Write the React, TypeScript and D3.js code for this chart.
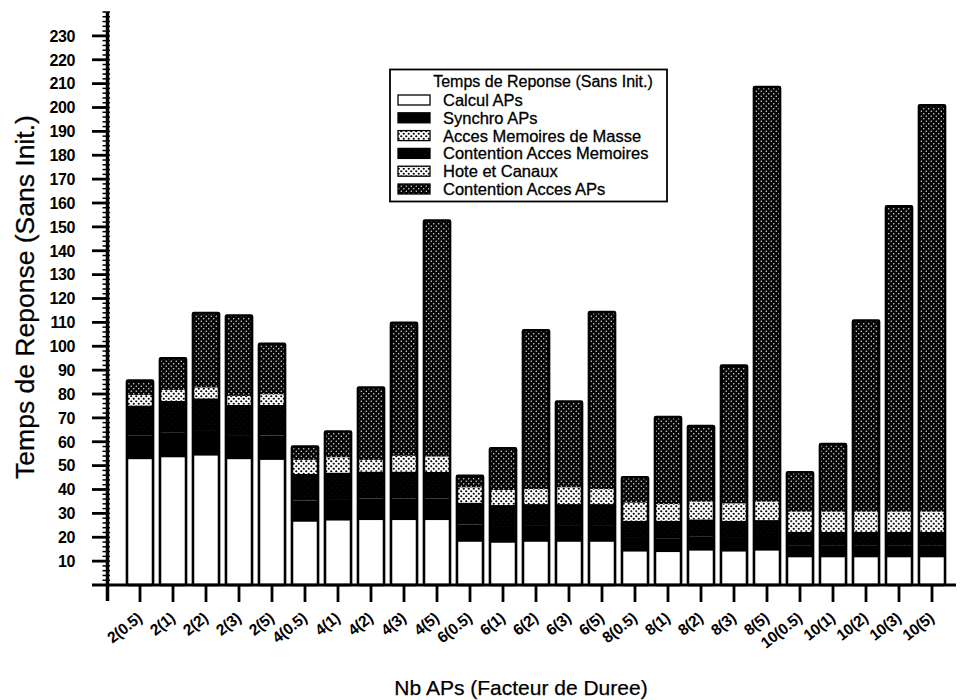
import React from "react";
import * as d3 from "d3";

const categories = ["2(0.5)","2(1)","2(2)","2(3)","2(5)","4(0.5)","4(1)","4(2)","4(3)","4(5)","6(0.5)","6(1)","6(2)","6(3)","6(5)","8(0.5)","8(1)","8(2)","8(3)","8(5)","10(0.5)","10(1)","10(2)","10(3)","10(5)"];

const calculAPs = [52.7,53.5,54.2,52.7,52.4,26.5,27.0,27.2,27.2,27.2,18.1,17.7,18.1,18.1,18.1,14.0,13.8,14.4,14.0,14.4,11.6,11.6,11.6,11.6,11.6];
const synchroAPs = [10.0,10.5,10.7,10.1,10.2,8.9,9.0,9.0,9.0,9.0,7.3,7.0,7.0,7.0,7.0,5.7,5.8,5.8,5.7,5.7,4.8,4.8,4.8,4.8,4.8];
const accesMemoiresMasse = [2.2,2.3,2.2,1.9,2.2,3.0,3.2,2.4,3.3,3.2,3.2,3.1,3.1,3.5,3.1,3.8,3.5,3.7,3.6,3.8,4.2,4.2,4.2,4.2,4.2];
const contentionAccesMemoires = [12.5,13.1,13.3,12.6,12.8,11.1,11.1,11.3,11.3,11.2,9.1,8.8,8.8,8.8,8.8,7.2,7.3,7.3,7.2,7.1,5.9,5.9,5.9,5.9,5.9];
const hoteEtCanaux = [2.2,2.3,2.3,1.9,2.3,2.9,3.2,2.5,3.3,3.2,3.2,3.2,3.2,3.5,3.2,3.8,3.5,3.7,3.7,3.9,4.2,4.2,4.2,4.2,4.2];
const contentionAccesAPs = [6.0,13.3,31.2,33.7,21.1,5.6,10.8,30.3,55.7,98.9,4.8,17.5,66.5,35.9,74.1,10.6,36.4,31.7,57.7,173.7,16.5,28.3,80.1,127.9,170.2];

const yTicks = [10,20,30,40,50,60,70,80,90,100,110,120,130,140,150,160,170,180,190,200,210,220,230];

const seriesNames = ["Calcul APs","Synchro APs","Acces Memoires de Masse","Contention Acces Memoires","Hote et Canaux","Contention Acces APs"];
const seriesKeys = ["calcul","synchro","acces","contMem","hote","contAP"];
const stackOrder = ["calcul","synchro","contMem","acces","hote","contAP"];
const fills: Record<string,string> = {
  calcul: "#ffffff",
  synchro: "#000000",
  acces: "url(#checker)",
  contMem: "url(#dense)",
  hote: "url(#checker)",
  contAP: "url(#stipple)",
};

const legendTitle = "Temps de Reponse (Sans Init.)";
const yTitle = "Temps de Reponse (Sans Init.)";
const xTitle = "Nb APs (Facteur de Duree)";

export default function App() {
  const W = 961, H = 700;
  const y0 = 585;
  const y = d3.scaleLinear().domain([0, 240]).range([y0, 12]);
  const x = d3.scaleBand<string>().domain(categories).range([123.5, 948.5]).paddingInner(0.21).paddingOuter(0.105);

  const table = categories.map((c, i) => ({
    cat: c,
    calcul: calculAPs[i],
    synchro: synchroAPs[i],
    acces: accesMemoiresMasse[i],
    contMem: contentionAccesMemoires[i],
    hote: hoteEtCanaux[i],
    contAP: contentionAccesAPs[i],
  }));
  const stacked = d3.stack<any>().keys(stackOrder)(table);

  const minor = d3.range(0, 241, 2);
  const font = "'Liberation Sans', Arial, Helvetica, sans-serif";
  const axisX = 107.5;

  const legendRows = seriesKeys.map((k, i) => ({ key: k, name: seriesNames[i], cy: 100 + i * 17.8 }));

  return (
    <svg width={W} height={H} style={{ position: "absolute", left: 0, top: 0, background: "#fff" }} fontFamily={font}>
      <defs>
        <pattern id="checker" patternUnits="userSpaceOnUse" width="5" height="5">
          <rect width="5" height="5" fill="#fff" />
          <circle cx="1.25" cy="1.25" r="1.1" fill="#000" />
          <circle cx="3.75" cy="3.75" r="1.1" fill="#000" />
        </pattern>
        <pattern id="stipple" patternUnits="userSpaceOnUse" width="5" height="5">
          <rect width="5" height="5" fill="#050505" />
          <circle cx="1.25" cy="1.25" r="0.65" fill="#fff" />
          <circle cx="3.75" cy="3.75" r="0.65" fill="#fff" />
        </pattern>
        <pattern id="dense" patternUnits="userSpaceOnUse" width="6" height="6">
          <rect width="6" height="6" fill="#000" />
          <circle cx="1.5" cy="1.5" r="0.35" fill="#444" />
          <circle cx="4.5" cy="4.5" r="0.35" fill="#444" />
        </pattern>
      </defs>

      {/* bars */}
      {stacked.map((s) => (
        <g key={s.key}>
          {s.map((d, i) => (
            <rect key={i} x={x(categories[i])!} width={x.bandwidth()} y={y(d[1])} height={y(d[0]) - y(d[1])}
              fill={fills[s.key]} stroke="none" />
          ))}
        </g>
      ))}
      {table.map((d, i) => {
        const total = stackOrder.reduce((a, k) => a + (d as any)[k], 0);
        return (
          <rect key={"o" + i} x={x(d.cat)!} width={x.bandwidth()} y={y(total)} height={y(0) - y(total)}
            fill="none" stroke="#000" strokeWidth={2.6} rx={1} />
        );
      })}

      {/* y axis */}
      <line x1={axisX} x2={axisX} y1={12} y2={601} stroke="#000" strokeWidth={3.5} />
      {minor.map((v) => (
        <line key={"m" + v} x1={axisX - 5} x2={axisX + 2.5} y1={y(v)} y2={y(v)} stroke="#000" strokeWidth={1.5} />
      ))}
      {yTicks.map((v) => (
        <g key={"t" + v}>
          <line x1={92} x2={axisX} y1={y(v)} y2={y(v)} stroke="#000" strokeWidth={2.8} />
          <text x={75} y={y(v)} dy="0.36em" textAnchor="end" fontSize={16} fontWeight="bold" letterSpacing={-0.4}>{v}</text>
        </g>
      ))}

      {/* x axis */}
      <line x1={92} x2={956} y1={y0} y2={y0} stroke="#000" strokeWidth={3} />
      {categories.map((c) => {
        const cx = x(c)! + x.bandwidth() / 2;
        return (
          <g key={"x" + c}>
            <line x1={cx} x2={cx} y1={y0} y2={602} stroke="#000" strokeWidth={2.8} />
            <text transform={`translate(${cx + 3},${620}) rotate(-38)`} textAnchor="end" fontSize={15.5} fontWeight="bold" letterSpacing={-0.3}>{c}</text>
          </g>
        );
      })}

      {/* titles */}
      <text transform={`translate(34,297) rotate(-90)`} textAnchor="middle" fontSize={26.5} stroke="#000" strokeWidth={0.3}>{yTitle}</text>
      <text x={521} y={695} textAnchor="middle" fontSize={21} stroke="#000" strokeWidth={0.25}>{xTitle}</text>

      {/* legend */}
      <rect x={390} y={69.5} width={277} height={132} fill="#fff" stroke="#000" strokeWidth={1.8} />
      <text x={543} y={87} textAnchor="middle" fontSize={16} stroke="#000" strokeWidth={0.3}>{legendTitle}</text>
      {legendRows.map((r) => (
        <g key={"l" + r.key}>
          <rect x={398} y={r.cy - 5} width={32} height={10} fill={fills[r.key]} stroke="#000" strokeWidth={1.3} />
          <text x={443} y={r.cy} dy="0.36em" fontSize={16.5} stroke="#000" strokeWidth={0.3}>{r.name}</text>
        </g>
      ))}
    </svg>
  );
}
